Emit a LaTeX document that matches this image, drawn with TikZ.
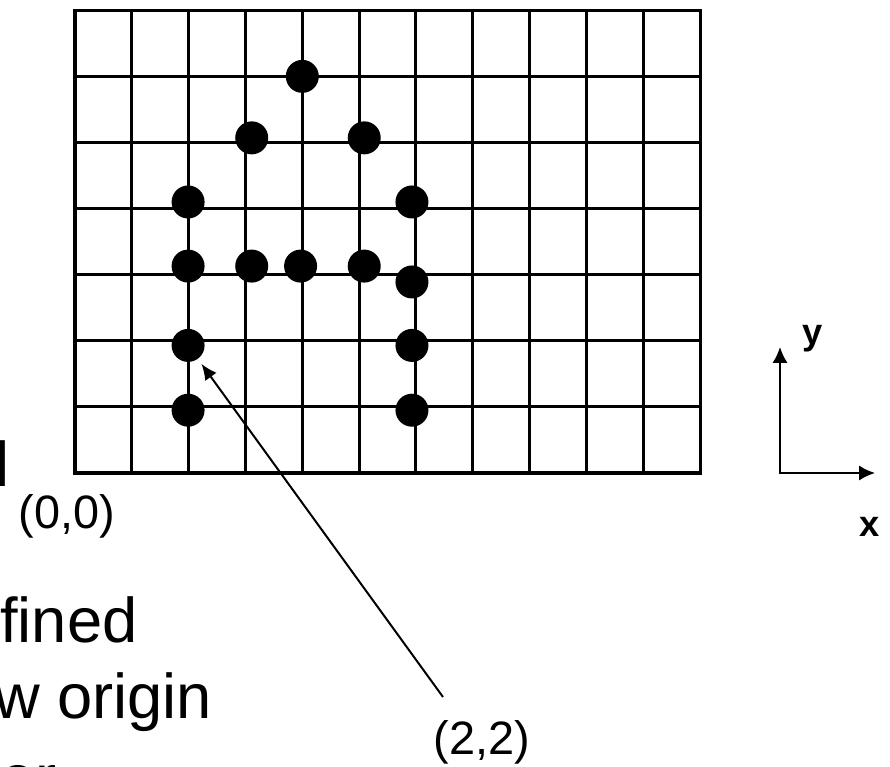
\documentclass[tikz,border=0pt]{standalone}
\usepackage{fontspec}
\setmainfont{Liberation Sans}
\usetikzlibrary{arrows.meta}
\tikzset{
  gridln/.style={line width=2.6pt, black},
  dotpt/.style={circle, fill=black, inner sep=0pt, minimum size=0.99cm},
  coordlab/.style={font=\fontsize{40}{48}\selectfont, inner sep=0pt},
  axislab/.style={font=\fontsize{31}{37}\selectfont\bfseries, inner sep=0pt},
  slidetxt/.style={font=\fontsize{54}{65}\selectfont, inner sep=0pt, anchor=base west},
  axarr/.style={line width=1.7pt, {Latex[length=4.8mm,width=4.6mm]}-{Latex[length=4.8mm,width=4.6mm]}},
  leader/.style={line width=1.7pt, -{Latex[length=4.8mm,width=4.2mm]}, shorten >=1.8mm},
}

\begin{document}
\begin{tikzpicture}[x=0.03cm, y=-0.03cm]
\useasboundingbox (0,0) rectangle (890,767);
\clip (0,0) rectangle (890,767);
% pixel grid, 11 x 7 cells, origin at lower left
\begin{scope}[shift={(75,473)}, x=1.7046cm, y=1.983cm]
  \foreach \i in {1,...,10} {\draw[gridln] (\i,0) -- (\i,7);}
  \foreach \j in {1,...,6} {\draw[gridln] (0,\j) -- (11,\j);}
  \draw[gridln] (0,0) rectangle (11,7);
  \foreach \px/\py/\nm in {4/6/d46, 3.11/5.07/d35, 5.09/5.07/d55,
    1.99/4.1/d24, 5.93/4.1/d64,
    1.99/3.13/d23, 3.11/3.13/d33, 3.97/3.13/d43, 5.09/3.13/d53, 5.93/2.89/d63,
    1.99/1.93/d22, 5.93/1.93/d62,
    1.99/0.95/d21, 5.93/0.95/d61}
    {\node[dotpt] (\nm) at (\px,\py) {};}
\end{scope}
\node[coordlab] (lab00) at (67,516) {(0,0)};
\node[coordlab] (lab22) at (482,742) {(2,2)};
\coordinate (leadend) at (443,697);
\draw[leader] (leadend) -- (d22);
% axes
\coordinate (axo) at (780,473);
\coordinate (axx) at (875,473);
\coordinate (axy) at (780,347);
\draw[axarr] (axy) -- (axo) -- (axx);
\node[axislab] (ylab) at (813,339) {y};
\node[axislab] (xlab) at (870,527) {x};
% slide text, cut at the left edge
\node[slidetxt] (txtl) at (-4.6,487) {l};
\node[slidetxt] (txtfined) at (0,642) {fined};
\node[slidetxt] (txtorigin) at (-6,718) {w origin};
\node[slidetxt] (txter) at (0,799) {er};
\end{tikzpicture}
\end{document}
